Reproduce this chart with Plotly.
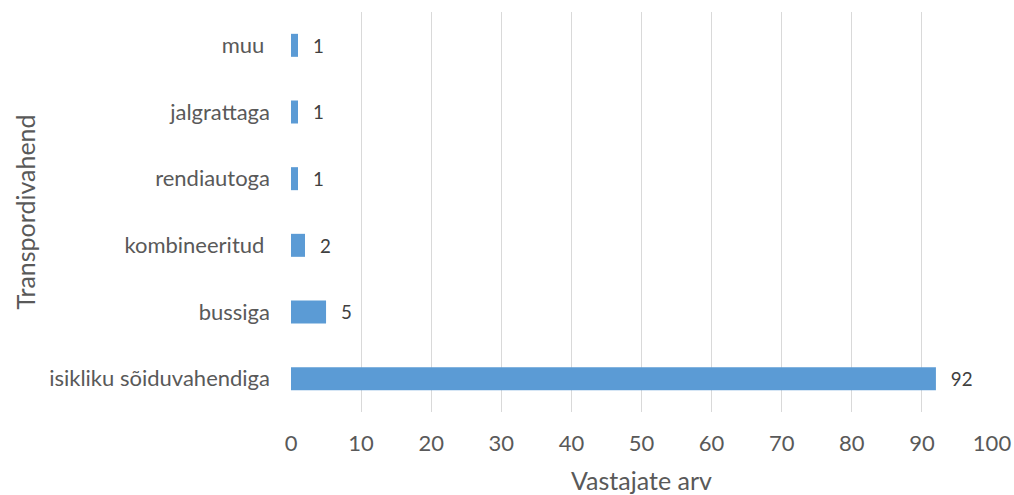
import plotly.graph_objects as go

categories = ["isikliku sõiduvahendiga", "bussiga", "kombineeritud ", "rendiautoga", "jalgrattaga", "muu "]
values = [92, 5, 2, 1, 1, 1]
x_ticks = [0, 10, 20, 30, 40, 50, 60, 70, 80, 90, 100]

FONT = "Lato"
fig = go.Figure(go.Bar(
    y=categories, x=values, orientation="h",
    marker=dict(color="#5B9BD5", line=dict(width=0)),
    text=["  \u2009" + str(v) for v in values], textposition="outside",
    textfont=dict(family=FONT, size=22, color="#404040"),
    cliponaxis=False,
))
fig.update_layout(
    width=1014, height=495,
    margin=dict(l=291, r=22, t=12, b=83),
    paper_bgcolor="white", plot_bgcolor="white",
    bargap=0.655,
    showlegend=False,
    font=dict(family=FONT, size=22, color="#595959"),
)
fig.update_xaxes(
    range=[0, 100], tickvals=x_ticks, showgrid=True, gridcolor="#D9D9D9", gridwidth=1.3,
    zeroline=False, showline=False, ticks="", automargin=False,
    ticklabelstandoff=16,
    tickfont=dict(family=FONT, size=22, color="#595959"),
    title=dict(text="Vastajate arv", font=dict(family=FONT, size=25, color="#595959"), standoff=19),
)
fig.update_yaxes(
    categoryorder="array", categoryarray=categories,
    showgrid=False, zeroline=False, showline=False, ticks="", automargin=False,
    ticklabelstandoff=20,
    tickfont=dict(family=FONT, size=22, color="#595959"),
    title=dict(text="Transpordivahend", font=dict(family=FONT, size=25, color="#595959"), standoff=6),
)
fig.write_html(
    "out.html",
    config={"displayModeBar": False},
    post_script="document.body.style.margin='0';document.body.style.overflow='hidden';",
)
